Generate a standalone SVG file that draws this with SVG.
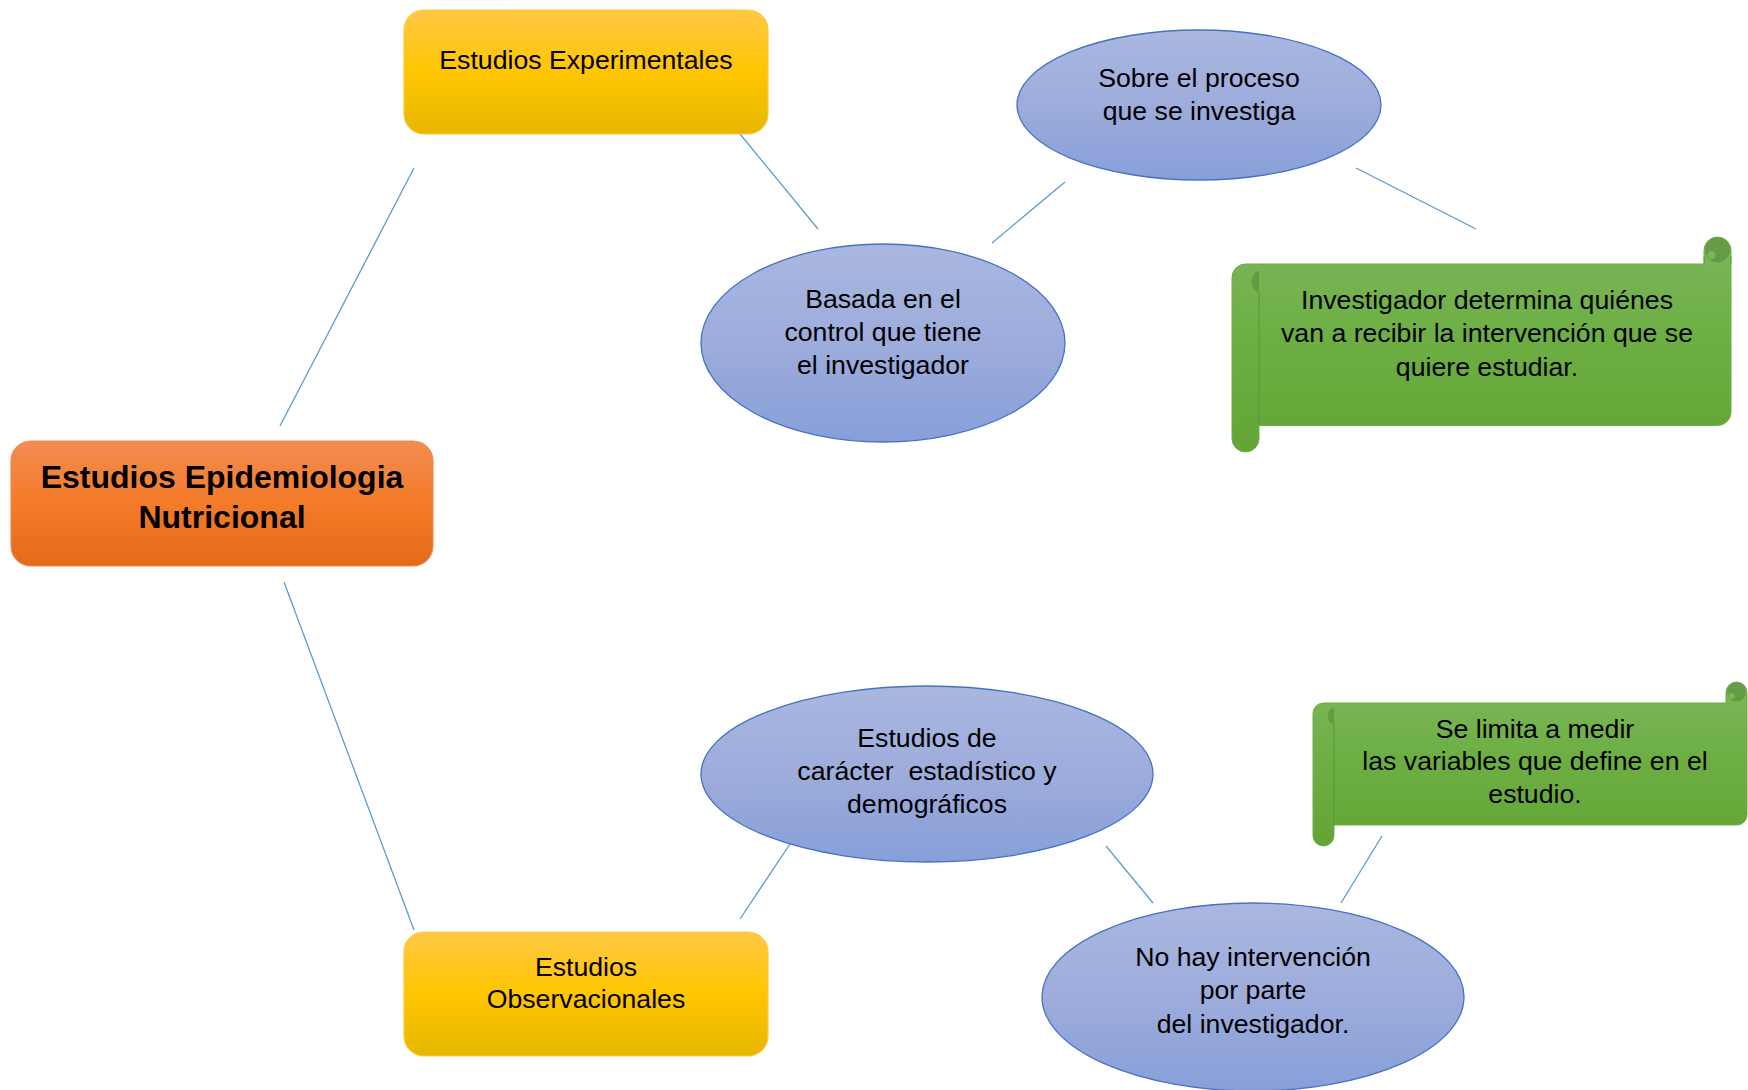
<svg xmlns="http://www.w3.org/2000/svg" width="1748" height="1090" viewBox="0 0 1748 1090">
<defs>
<linearGradient id="gY" x1="0" y1="0" x2="0" y2="1">
<stop offset="0" stop-color="#FFC846"/><stop offset="0.5" stop-color="#FFC600"/><stop offset="1" stop-color="#E6B700"/>
</linearGradient>
<linearGradient id="gO" x1="0" y1="0" x2="0" y2="1">
<stop offset="0" stop-color="#F18C52"/><stop offset="0.5" stop-color="#F47B28"/><stop offset="1" stop-color="#E26A18"/>
</linearGradient>
<linearGradient id="gB" x1="0" y1="0" x2="0" y2="1">
<stop offset="0" stop-color="#A9B7E0"/><stop offset="0.5" stop-color="#9DACDB"/><stop offset="1" stop-color="#879FD9"/>
</linearGradient>
<linearGradient id="gG" x1="0" y1="0" x2="0" y2="1">
<stop offset="0" stop-color="#7BB75B"/><stop offset="0.5" stop-color="#6CAE42"/><stop offset="1" stop-color="#62A535"/>
</linearGradient>
<style>
.box-y{fill:url(#gY);stroke:#FFC83A;stroke-width:1.2}
.box-o{fill:url(#gO);stroke:#F08A4E;stroke-width:1.2}
.ell{fill:url(#gB);stroke:#4472C4;stroke-width:1.3}
.scroll{fill:url(#gG);stroke:#6FAD47;stroke-width:1}
.curl{fill:#3F6E28;fill-opacity:0.35}
.notch{fill:#79B658}
.edge{stroke:#5A9A38;stroke-width:1.2;fill:none}
.conn line{stroke:#5B9BD5;stroke-width:1.3}
text{font-family:"Liberation Sans",Arial,sans-serif;fill:#000;text-anchor:middle;font-size:26.67px}
.title{font-weight:bold;font-size:32px}
</style>
</defs>
<rect width="1748" height="1090" fill="#FFFFFF"/>

<g id="connectors" class="conn">
<line x1="414" y1="168" x2="280" y2="426"/>
<line x1="740" y1="134" x2="818" y2="229"/>
<line x1="992" y1="243" x2="1065" y2="182"/>
<line x1="1356" y1="168" x2="1476" y2="229"/>
<line x1="284" y1="582" x2="414" y2="930"/>
<line x1="740" y1="919" x2="790" y2="844"/>
<line x1="1106" y1="846" x2="1153" y2="903"/>
<line x1="1341" y1="903" x2="1382" y2="836"/>
</g>

<g id="n-titulo">
<rect class="box-o" x="11" y="441" width="422" height="125" rx="20"/>
<text class="title" x="222" y="488">Estudios Epidemiologia</text>
<text class="title" x="222" y="528">Nutricional</text>
</g>

<g id="n-experimentales">
<rect class="box-y" x="404" y="10" width="364" height="124" rx="20"/>
<text x="586" y="69">Estudios Experimentales</text>
</g>

<g id="n-observacionales">
<rect class="box-y" x="404" y="932" width="364" height="124" rx="20"/>
<text x="586" y="976">Estudios</text>
<text x="586" y="1008">Observacionales</text>
</g>

<g id="n-basada">
<ellipse class="ell" cx="883" cy="343" rx="182" ry="99"/>
<text x="883" y="308">Basada en el</text>
<text x="883" y="341">control que tiene</text>
<text x="883" y="374">el investigador</text>
</g>

<g id="n-sobre">
<ellipse class="ell" cx="1199" cy="105" rx="182" ry="75"/>
<text x="1199" y="87">Sobre el proceso</text>
<text x="1199" y="120">que se investiga</text>
</g>

<g id="n-investigador">
<path class="scroll" d="M1232 277.5 A13.5 13.5 0 0 1 1245.5 264 L1704 264 L1704 250.5 A13.5 13.5 0 0 1 1731 250.5 L1731 412 A13.5 13.5 0 0 1 1717.5 425.5 L1259 425.5 L1259 438.5 A13.5 13.5 0 0 1 1232 438.5 Z"/>
<path class="curl" d="M1259 271 a7 10 0 0 0 0 21 Z"/>
<circle class="curl" cx="1717.5" cy="250" r="12.5"/>
<circle class="notch" cx="1711.5" cy="255" r="4"/>
<path class="edge" d="M1259 292 L1259 425"/>
<path class="edge" d="M1704 256 L1704 264 M1731 256 L1731 264" stroke-opacity="0.6"/>
<text x="1487" y="309">Investigador determina quiénes</text>
<text x="1487" y="342">van a recibir la intervención que se</text>
<text x="1487" y="376">quiere estudiar.</text>
</g>

<g id="n-caracter">
<ellipse class="ell" cx="927" cy="774" rx="226" ry="88"/>
<text x="927" y="747">Estudios de</text>
<text x="927" y="780" xml:space="preserve">carácter  estadístico y</text>
<text x="927" y="813">demográficos</text>
</g>

<g id="n-nohay">
<ellipse class="ell" cx="1253" cy="997" rx="211" ry="94"/>
<text x="1253" y="966">No hay intervención</text>
<text x="1253" y="999">por parte</text>
<text x="1253" y="1033">del investigador.</text>
</g>

<g id="n-limita">
<path class="scroll" d="M1313 713.5 A10.5 10.5 0 0 1 1323.5 703 L1726 703 L1726 692.5 A10.5 10.5 0 0 1 1747 692.5 L1747 815 A10 10 0 0 1 1737 825 L1334 825 L1334 835.5 A10.5 10.5 0 0 1 1313 835.5 Z"/>
<path class="curl" d="M1334 708 a6 8 0 0 0 0 16 Z"/>
<circle class="curl" cx="1736.5" cy="692" r="9.5"/>
<circle class="notch" cx="1731.5" cy="696" r="3"/>
<path class="edge" d="M1334 724 L1334 825"/>
<text x="1535" y="738">Se limita a medir</text>
<text x="1535" y="770">las variables que define en el</text>
<text x="1535" y="803">estudio.</text>
</g>
</svg>
